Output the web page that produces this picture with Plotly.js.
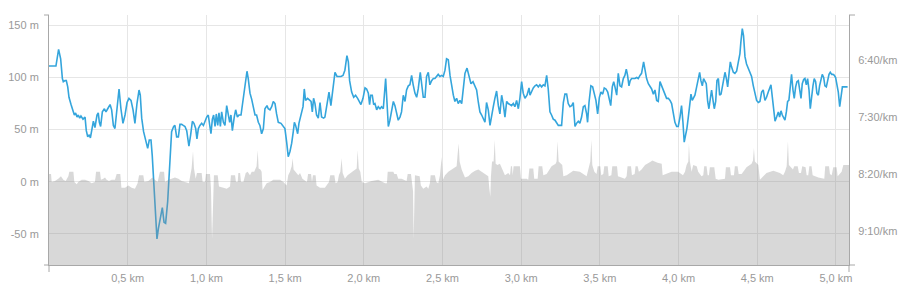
<!DOCTYPE html>
<html>
<head>
<meta charset="utf-8">
<script src="https://cdn.plot.ly/plotly-3.0.1.min.js"></script>
<style>
  html, body { margin: 0; padding: 0; background: #ffffff; }
  #chart { width: 916px; height: 291px; }
</style>
</head>
<body>
<div id="chart"></div>
<script>
// ---- Elevation (blue line, left axis, metres) ----
const elevDist = [
  0.000,0.044,0.061,0.074,0.085,0.091,0.102,0.110,0.119,0.127,0.140,0.150,0.161,0.169,0.178,0.186,0.195,0.203,0.216,0.229,
  0.237,0.246,0.256,0.263,0.271,0.282,0.292,0.305,0.313,0.320,0.328,0.339,0.352,0.362,0.373,0.388,0.398,0.409,0.419,0.430,
  0.445,0.457,0.470,0.483,0.496,0.508,0.521,0.534,0.546,0.559,0.572,0.580,0.589,0.601,0.614,0.627,0.637,0.648,0.656,0.669,
  0.678,0.686,0.695,0.707,0.720,0.731,0.741,0.754,0.767,0.779,0.792,0.800,0.811,0.822,0.832,0.843,0.853,0.864,0.875,0.889,
  0.900,0.911,0.921,0.932,0.940,0.949,0.959,0.970,0.981,0.991,
  1.002,1.012,1.023,1.029,1.038,1.046,1.055,1.063,1.072,1.080,1.089,1.097,1.108,1.118,1.129,1.139,1.148,1.156,1.165,1.177,
  1.186,1.197,1.207,1.220,1.233,1.245,1.258,1.266,1.277,1.288,1.300,1.309,1.319,1.330,1.340,1.351,1.362,1.372,1.385,1.393,
  1.404,1.415,1.425,1.436,1.446,1.457,1.474,1.489,1.499,1.510,1.520,1.531,1.542,1.552,1.559,1.567,1.580,1.588,1.601,1.614,
  1.622,1.630,1.643,1.656,1.665,1.673,1.681,1.690,1.700,1.711,1.722,1.732,1.745,1.753,1.766,1.779,1.791,1.804,1.817,1.830,
  1.842,1.855,1.868,1.880,1.893,1.902,1.910,1.923,1.936,1.948,1.961,1.970,1.982,1.995,2.008,
  2.018,2.029,2.037,2.044,2.054,2.063,2.071,2.082,2.092,2.103,2.113,2.124,2.139,2.147,2.156,2.166,2.177,2.188,2.198,2.209,
  2.219,2.230,2.240,2.251,2.262,2.272,2.283,2.293,2.304,2.314,2.325,2.336,2.346,2.359,2.367,2.378,2.389,2.399,2.410,2.420,
  2.431,2.442,2.452,2.463,2.473,2.484,2.495,2.505,2.516,2.526,2.537,2.548,2.558,2.569,2.579,2.590,2.600,2.611,2.622,2.632,
  2.643,2.656,2.668,2.681,2.694,2.707,2.717,2.728,2.738,2.749,2.759,2.770,2.780,2.791,2.802,2.812,2.823,2.833,2.844,2.855,
  2.865,2.876,2.886,2.897,2.908,2.918,2.929,2.939,2.950,2.960,2.971,2.982,2.992,3.003,3.013,3.024,3.037,3.050,
  3.056,3.066,3.077,3.088,3.098,3.109,3.119,3.130,3.141,3.151,3.162,3.172,3.183,3.193,3.204,3.215,3.225,3.236,3.246,3.257,
  3.268,3.278,3.289,3.299,3.310,3.321,3.331,3.342,3.352,3.363,3.373,3.384,3.395,3.405,3.416,3.422,3.431,3.443,3.454,3.465,
  3.475,3.486,3.497,3.507,3.518,3.528,3.539,3.550,3.560,3.569,3.579,3.588,3.596,3.607,3.617,3.628,3.638,3.649,3.659,3.668,
  3.676,3.685,3.693,3.702,3.712,3.723,3.734,3.744,3.755,3.765,3.778,3.787,3.797,3.808,3.818,3.829,3.840,3.850,3.861,3.871,
  3.882,3.893,3.903,3.914,3.924,3.935,3.946,3.956,3.967,3.977,3.988,3.998,4.009,4.019,4.028,4.036,4.045,4.053,4.062,
  4.072,4.079,4.087,4.096,4.104,4.115,4.125,4.134,4.142,4.151,4.159,4.168,4.176,4.185,4.193,4.202,4.210,4.219,4.227,4.236,
  4.244,4.253,4.261,4.270,4.278,4.287,4.295,4.304,4.312,4.321,4.329,4.337,4.348,4.358,4.369,4.380,4.390,4.396,4.405,4.413,
  4.422,4.432,4.443,4.454,4.464,4.475,4.485,4.496,4.507,4.517,4.528,4.538,4.549,4.559,4.570,4.579,4.587,4.596,4.604,4.613,
  4.623,4.634,4.642,4.651,4.659,4.668,4.676,4.685,4.693,4.701,4.710,4.718,4.727,4.735,4.744,4.752,4.761,4.769,4.778,4.786,
  4.795,4.803,4.812,4.820,4.829,4.837,4.845,4.854,4.862,4.871,4.879,4.888,4.896,4.905,4.913,4.922,4.930,4.939,4.947,4.956,
  4.964,4.973,4.981,4.990,4.998,5.007,5.015,5.024,5.032,5.041,5.053,5.074
];
const elevation = [
  111,111,127,118,99,96,97,97,91,81,74,69,64,66,62,64,61,63,60,62,
  49,43,45,42,49,58,52,64,66,57,53,67,70,67,70,74,69,54,51,70,
  89,70,56,64,76,80,78,69,56,75,88,83,61,48,40,32,40,40,25,-10,
  -39,-55,-45,-35,-25,-39,-40,-19,19,48,53,54,43,43,55,55,54,53,49,34,
  45,58,56,51,41,51,54,56,54,58,
  62,64,54,46,60,64,53,65,54,66,53,67,57,54,73,64,57,64,49,62,
  69,62,64,64,80,93,106,99,85,79,70,64,64,57,54,46,51,70,73,70,
  69,72,77,75,65,57,56,53,51,38,24,29,37,48,57,54,46,56,64,72,
  89,78,80,78,77,67,80,75,64,61,76,62,61,62,75,86,73,91,105,101,
  101,101,102,107,121,115,97,86,81,83,80,77,74,80,90,
  89,85,74,83,83,74,75,69,72,70,72,70,99,80,53,59,67,77,73,64,
  59,62,67,83,77,88,92,93,102,93,85,81,89,105,93,81,81,101,105,93,
  97,99,99,101,103,101,102,101,107,118,117,102,91,83,77,80,75,78,75,91,
  104,109,102,94,96,92,88,76,67,64,61,57,76,69,54,64,72,80,87,73,
  65,83,75,62,77,75,74,73,75,72,78,70,80,96,85,80,83,90,
  83,87,90,92,93,91,93,91,93,92,102,89,67,64,60,59,56,54,54,54,
  76,84,84,75,72,73,76,53,56,58,56,62,72,73,65,57,76,92,91,84,
  78,65,81,86,84,90,89,86,80,73,91,96,91,83,104,92,91,99,102,108,
  102,92,97,99,99,99,100,99,102,104,115,105,99,94,91,89,84,88,78,77,
  96,92,88,83,80,80,78,75,67,57,53,53,62,73,57,38,45,51,62,
  80,84,78,80,83,91,100,105,97,92,99,97,94,77,70,80,88,78,70,77,
  97,99,83,84,91,102,105,99,91,104,115,110,105,104,106,115,123,134,147,140,
  120,113,109,105,101,92,85,78,76,77,86,88,78,81,86,89,93,81,67,58,
  62,67,62,68,64,61,59,67,77,78,96,103,88,80,91,96,97,88,80,94,
  98,99,93,99,88,70,83,92,99,96,85,83,92,100,103,100,92,91,97,103,
  105,103,103,102,100,94,86,72,83,91,91,91
];

// ---- Pace (grey area, right axis, seconds per km) ----
const paceDist = [
  0.000,0.013,0.017,0.038,0.059,0.076,0.091,0.106,0.123,0.129,0.155,0.161,0.176,0.186,0.208,0.229,0.250,0.271,0.292,0.299,
  0.324,0.330,0.345,0.356,0.366,0.381,0.398,0.419,0.430,0.453,0.460,0.483,0.504,0.525,0.546,0.563,0.572,0.599,0.606,0.631,
  0.648,0.656,0.673,0.690,0.705,0.731,0.737,0.758,0.779,0.800,0.822,0.843,0.864,0.889,0.898,0.906,0.915,0.921,0.932,0.940,
  0.970,0.976,0.991,0.997,1.023,1.029,1.036,1.042,1.048,1.072,1.080,1.108,1.129,1.150,1.156,1.182,1.188,1.199,1.203,1.214,
  1.220,1.235,1.250,1.262,1.277,1.288,1.304,1.319,1.326,1.332,1.343,1.351,1.357,1.383,1.404,1.425,1.446,1.468,1.489,1.510,
  1.520,1.531,1.542,1.548,1.554,1.567,1.584,1.595,1.610,1.639,1.646,1.665,1.671,1.677,1.694,1.700,1.722,1.753,1.779,1.787,
  1.813,1.821,1.834,1.842,1.851,1.859,1.866,1.880,1.897,1.927,1.955,1.961,1.968,1.978,1.987,
  2.008,2.050,2.092,2.135,2.147,2.152,2.188,2.194,2.209,2.219,2.240,2.272,2.279,2.300,2.306,2.313,2.317,2.321,2.325,2.355,
  2.363,2.378,2.399,2.410,2.420,2.425,2.452,2.461,2.473,2.484,2.495,2.503,2.516,2.537,2.569,2.590,2.596,2.603,2.609,2.622,
  2.643,2.664,2.685,2.707,2.728,2.749,2.770,2.791,2.798,2.804,2.808,2.815,2.825,2.832,2.838,2.849,2.865,2.886,2.897,2.918,
  2.929,2.935,2.942,2.946,2.952,2.992,2.999,3.035,
  3.045,3.052,3.077,3.083,3.105,3.111,3.134,3.141,3.162,3.193,3.219,3.225,3.231,3.238,3.261,3.268,3.289,3.331,3.373,3.416,
  3.431,3.439,3.446,3.452,3.465,3.479,3.486,3.503,3.509,3.522,3.528,3.550,3.556,3.573,3.579,3.609,3.615,3.659,3.670,3.676,
  3.698,3.704,3.721,3.727,3.740,3.748,3.765,3.787,3.825,3.833,3.867,3.893,3.899,3.956,3.998,4.028,4.041,
  4.051,4.062,4.066,4.072,4.083,4.093,4.115,4.125,4.146,4.157,4.163,4.178,4.185,4.193,4.199,4.227,4.236,4.253,4.295,4.301,
  4.327,4.333,4.352,4.358,4.375,4.382,4.401,4.432,4.464,4.473,4.479,4.485,4.507,4.517,4.559,4.602,4.644,4.665,4.676,4.687,
  4.695,4.701,4.727,4.735,4.757,4.765,4.778,4.786,4.807,4.814,4.824,4.831,4.845,4.852,4.888,4.926,4.932,4.956,4.962,4.973,
  4.983,5.004,5.011,5.036,5.047,5.083
];
const paceSec = [
  500,500,507,506,504,502,505,506,502,498,498,507,509,507,505,505,506,508,507,498,
  498,505,504,503,505,506,505,505,500,500,512,512,510,512,513,508,501,501,507,506,
  504,503,505,507,498,498,507,505,504,503,504,506,507,508,501,495,480,495,504,499,
  499,507,507,500,500,512,557,512,501,501,511,512,513,511,501,501,507,507,499,499,
  507,507,499,498,501,498,498,493,479,495,496,498,514,508,507,505,505,505,507,510,
  501,498,493,486,496,498,501,499,504,507,500,500,507,501,501,510,512,512,507,501,
  501,508,507,501,498,486,499,504,501,498,495,479,495,498,507,
  508,506,505,508,508,498,498,500,500,504,504,506,500,500,507,515,557,515,501,502,
  510,513,511,513,508,501,501,507,508,501,485,505,501,498,495,493,483,473,489,496,
  503,502,499,497,496,498,500,502,513,520,502,489,489,470,491,492,491,498,501,499,
  501,493,493,501,493,493,504,504,
  505,495,495,504,504,493,493,501,500,493,491,489,471,489,492,502,501,497,498,502,
  493,489,470,492,498,500,493,493,501,500,493,493,502,501,493,493,502,504,502,493,
  493,501,500,493,493,498,496,492,489,488,490,491,501,498,498,501,498,
  492,489,473,489,498,492,493,498,502,501,493,493,501,501,494,494,504,505,504,494,
  494,501,501,493,493,500,500,494,491,488,477,489,492,505,499,497,499,501,498,493,
  471,492,496,493,493,499,499,493,494,501,501,493,493,501,503,504,493,493,500,501,
  494,494,502,498,492,492
];

// ---- Axis settings / labels ----
const elevRange = [-80, 160];
const paceRange = [580, 360];          // reversed: faster pace at top
const distRange = [0, 5.083];
const elevTicks = [-50, 0, 50, 100, 150];
const elevTickText = ['-50 m', '0 m', '50 m', '100 m', '150 m'];
const paceTicks = [400, 450, 500, 550];
const paceTickText = ['6:40/km', '7:30/km', '8:20/km', '9:10/km'];
const distTicks = [0.5, 1.0, 1.5, 2.0, 2.5, 3.0, 3.5, 4.0, 4.5, 5.0];
const distTickText = ['0,5 km', '1,0 km', '1,5 km', '2,0 km', '2,5 km', '3,0 km', '3,5 km', '4,0 km', '4,5 km', '5,0 km'];

const labelFont = { family: 'Arial, "Liberation Sans", sans-serif', size: 11, color: '#999999' };
const axisColor = '#a8a8a8';
const gridColor = '#e6e6e6';

const traces = [
  { // baseline at the bottom of the pace axis (fill reference)
    x: [distRange[0], distRange[1]], y: [paceRange[0], paceRange[0]],
    yaxis: 'y2', type: 'scatter', mode: 'lines',
    line: { width: 0 }, hoverinfo: 'skip', showlegend: false
  },
  {
    x: paceDist, y: paceSec, yaxis: 'y2', type: 'scatter', mode: 'lines',
    line: { width: 0, color: 'rgba(140,140,140,0)' },
    fill: 'tonexty', fillcolor: 'rgba(140,140,140,0.34)',
    showlegend: false, name: 'Pace'
  },
  {
    x: elevDist, y: elevation, yaxis: 'y', type: 'scatter', mode: 'lines',
    line: { width: 1.6, color: '#34a5dc' },
    showlegend: false, name: 'Elevation'
  }
];

const W = 800, H = 250;
const tick = (x0, y0, x1, y1) => ({
  type: 'line', xref: 'paper', yref: 'paper', x0, y0, x1, y1,
  line: { color: axisColor, width: 1 }, layer: 'above'
});

const layout = {
  width: 916, height: 291,
  margin: { l: 49, r: 67, t: 15, b: 26, pad: 0 },
  paper_bgcolor: '#ffffff', plot_bgcolor: '#ffffff',
  showlegend: false,
  font: labelFont,
  xaxis: {
    range: distRange, tickvals: distTicks, ticktext: distTickText,
    showgrid: true, gridcolor: gridColor, gridwidth: 1,
    showline: true, linecolor: axisColor, linewidth: 1,
    zeroline: false, ticks: '', tickfont: labelFont, ticklabelstandoff: 3,
    fixedrange: true
  },
  yaxis: {
    range: elevRange, tickvals: elevTicks, ticktext: elevTickText,
    showgrid: true, gridcolor: gridColor, gridwidth: 1,
    showline: true, linecolor: axisColor, linewidth: 1,
    zeroline: false, ticks: '', tickfont: labelFont, ticklabelstandoff: 7,
    fixedrange: true
  },
  yaxis2: {
    overlaying: 'y', side: 'right',
    range: paceRange, tickvals: paceTicks, ticktext: paceTickText,
    showgrid: false, showline: true, linecolor: axisColor, linewidth: 1,
    zeroline: false, ticks: '', tickfont: labelFont, ticklabelstandoff: 6,
    fixedrange: true
  },
  shapes: [
    tick(-5 / W, 1, 0, 1),
    tick(-5 / W, 0, 0, 0),
    tick(0, 0, 0, -7 / H),
    tick(1, 1, 1 + 6 / W, 1),
    tick(1, 0, 1 + 6 / W, 0),
    tick(1, 0, 1, -7 / H)
  ]
};

Plotly.newPlot('chart', traces, layout, { staticPlot: true, displayModeBar: false });
</script>
</body>
</html>
